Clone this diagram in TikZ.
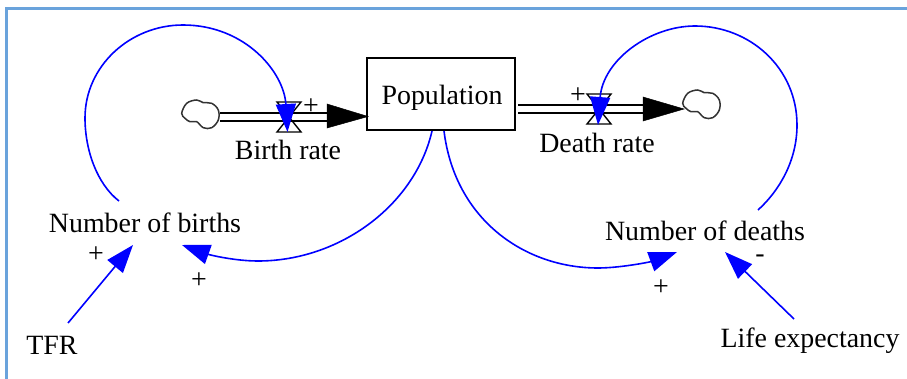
\documentclass[tikz,border=0pt]{standalone}
\usepackage{fontspec}
\setmainfont{Liberation Serif}
\usetikzlibrary{arrows.meta}
\definecolor{framecol}{HTML}{6AA3DC}
\definecolor{cloudcol}{HTML}{333333}
\tikzset{
  lbl/.style={anchor=base,inner sep=0pt,font=\fontsize{27.9}{30}\selectfont,text=black},
  stock/.style={draw=black,line width=1.4pt,fill=white,minimum width=148pt,minimum height=72pt,inner sep=0pt},
  pipe/.style={draw=black,line width=1.7pt},
  flowhead/.style={draw=black,fill=black,line width=0.5pt},
  valve/.style={draw=black,line width=1.4pt},
  link/.style={draw=blue,line width=1.6pt,-{Triangle[length=28pt,width=20pt,fill=blue]}},
  puff/.style={draw=cloudcol,line width=1.5pt}
}
\newcommand{\cloudblob}[1]{%
  \draw[puff,shift={(#1)}] plot[smooth cycle,tension=0.6] coordinates
   {(-18.3,-0.7) (-13.3,-10.7) (-3.3,-14) (3.3,-11.3) (11.7,-10.7) (18.3,-4) (18.3,6) (11.7,13.7) (3.3,13.7) (-3.3,7.7) (-10,7.7) (-15,4.3)};}
\newcommand{\hourglass}[1]{%
  \draw[valve,shift={(#1)}] (-12,-15) -- (12,-15) -- (-12,15) -- (12,15) -- cycle;}
\begin{document}
\begin{tikzpicture}[x=1pt,y=-1pt]
\useasboundingbox (0,0) rectangle (907,379);
\draw[framecol,line width=2.5pt] (6.5,379) -- (6.5,8.5) -- (907,8.5);
% stock and text
\node[stock] (pop) at (441,94) {};
\node[lbl] (poplbl) at (442,105) {Population};
\node[lbl] (birthrate) at (288,160) {Birth rate};
\node[lbl] (deathrate) at (597,153) {Death rate};
\node[lbl] (births) at (145,233) {Number of births};
\node[lbl] (deaths) at (705,241) {Number of deaths};
\node[lbl] (tfr) at (52,354) {TFR};
\node[lbl] (life) at (810,347) {Life expectancy};
\node[lbl] (p1) at (311,115) {+};
\node[lbl] (p2) at (578,104) {+};
\node[lbl] (p3) at (96,262) {+};
\node[lbl] (p4) at (199,288) {+};
\node[lbl] (p5) at (661,295) {+};
\node[lbl,text height=9pt] (m1) at (760,262) {-};
% named ports
\coordinate (cloudL) at (200,114);
\coordinate (cloudR) at (701,104);
\coordinate (valveB) at (289,117);
\coordinate (valveD) at (599,109);
\coordinate (bpA) at (220,113);
\coordinate (bpB) at (220,121);
\coordinate (bpC) at (330,113);
\coordinate (bpD) at (330,121);
\coordinate (dpA) at (518,105);
\coordinate (dpB) at (518,113);
\coordinate (dpC) at (646,105);
\coordinate (dpD) at (646,113);
\coordinate (bOut) at (119,201);
\coordinate (bTip) at (287.5,132);
\coordinate (dOut) at (758,210);
\coordinate (dTip) at (598,125);
\coordinate (popB) at (432,131);
\coordinate (popD) at (444,131);
\coordinate (bInTip) at (182,245);
\coordinate (dInTip) at (677,252);
\coordinate (tfrOut) at (68,323);
\coordinate (tfrTip) at (133,245);
\coordinate (lifeOut) at (794,319);
\coordinate (lifeTip) at (725,252);
% clouds, pipes, valves
\cloudblob{cloudL}
\cloudblob{cloudR}
\draw[pipe] (bpA) -- (bpC);
\draw[pipe] (bpB) -- (bpD);
\draw[pipe] (dpA) -- (dpC);
\draw[pipe] (dpB) -- (dpD);
\fill[flowhead] (327,104) -- (368,116.5) -- (327,128) -- cycle;
\fill[flowhead] (643,97) -- (684,109) -- (643,121) -- cycle;
\hourglass{valveB}
\hourglass{valveD}
% blue links
\draw[link] (bOut) .. controls (97,184) and (85,150) .. (85,118)
  .. controls (85,66) and (130,25) .. (183,25)
  .. controls (245,25) and (284,72) .. (bTip);
\draw[link] (dOut) .. controls (780,190) and (797,160) .. (797,125)
  .. controls (797,68) and (750,26) .. (695,26)
  .. controls (650,26) and (603,60) .. (dTip);
\draw[link] (popB) .. controls (415,205) and (340,261) .. (258,261)
  .. controls (235,261) and (210,255) .. (bInTip);
\draw[link] (popD) .. controls (455,220) and (525,268) .. (598,268)
  .. controls (620,268) and (650,262) .. (dInTip);
\draw[link] (tfrOut) -- (tfrTip);
\draw[link] (lifeOut) -- (lifeTip);
\end{tikzpicture}
\end{document}
